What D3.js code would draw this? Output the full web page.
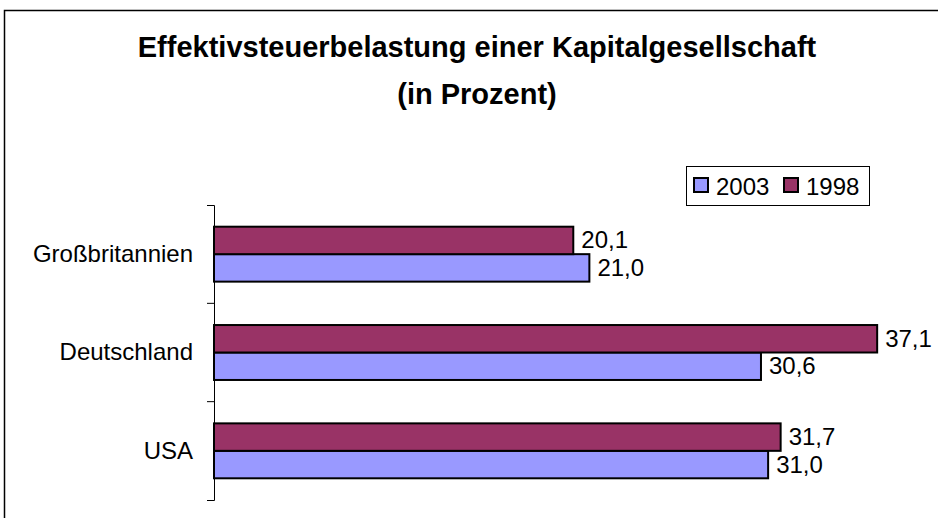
<!DOCTYPE html>
<html>
<head>
<meta charset="utf-8">
<script src="https://cdn.jsdelivr.net/npm/d3@7"></script>
<style>
  body { margin: 0; background: #fff; }
  svg { display: block; font-family: "Liberation Sans", Arial, sans-serif; }
</style>
</head>
<body>
<div id="viz"></div>
<script>
// chart data
var categories = ['Großbritannien', 'Deutschland', 'USA'];
var seriesNames = ['2003', '1998'];
var values2003 = [21.0, 30.6, 31.0];
var values1998 = [20.1, 37.1, 31.7];
var xDomain = [0, 40];
var titleLines = ['Effektivsteuerbelastung einer Kapitalgesellschaft', '(in Prozent)'];

var width = 938, height = 518;
var colors = { '2003': '#9999FF', '1998': '#993366' };
var fmt = function(v) { return v.toFixed(1).replace('.', ','); };

var svg = d3.select('#viz').append('svg')
  .attr('width', width)
  .attr('height', height);

// outer frame (bottom / right run off the picture)
svg.append('rect')
  .attr('x', 4.5).attr('y', 10.5)
  .attr('width', width).attr('height', height)
  .attr('fill', 'none').attr('stroke', '#000').attr('stroke-width', 1.5);

// title
svg.append('g').selectAll('text').data(titleLines)
  .enter().append('text')
    .attr('x', 477)
    .attr('y', function(d, i) { return 57 + i * 47; })
    .attr('text-anchor', 'middle')
    .style('font-weight', 'bold')
    .style('font-size', '29px')
    .text(function(d) { return d; });

var x = d3.scaleLinear().domain(xDomain).range([214, 929]);

var y = d3.scaleBand()
  .domain(categories)
  .range([205, 500]);

// 1998 above 2003 inside each band
var inner = d3.scaleBand()
  .domain(['1998', '2003'])
  .range([0, y.bandwidth()])
  .paddingInner(0)
  .paddingOuter(0.79);

var rows = [];
categories.forEach(function(c, i) {
  rows.push({ cat: c, s: '2003', v: values2003[i] });
  rows.push({ cat: c, s: '1998', v: values1998[i] });
});

svg.append('g').selectAll('rect').data(rows)
  .enter().append('rect')
    .attr('x', x(0))
    .attr('y', function(d) { return y(d.cat) + inner(d.s); })
    .attr('width', function(d) { return x(d.v) - x(0); })
    .attr('height', inner.bandwidth())
    .attr('fill', function(d) { return colors[d.s]; })
    .attr('stroke', '#000')
    .attr('stroke-width', 2);

svg.append('g').selectAll('text').data(rows)
  .enter().append('text')
    .attr('x', function(d) { return x(d.v) + 8; })
    .attr('y', function(d) { return y(d.cat) + inner(d.s) + inner.bandwidth() / 2 + 8; })
    .style('font-size', '24px')
    .text(function(d) { return fmt(d.v); });

// category axis
var yAxis = svg.append('g')
  .attr('transform', 'translate(' + x(0) + ',0)')
  .call(d3.axisLeft(y).tickSizeInner(0).tickSizeOuter(7).tickPadding(21));
yAxis.select('.domain').attr('stroke', '#000');
yAxis.selectAll('text')
  .style('font-size', '24px')
  .style('font-family', '"Liberation Sans", Arial, sans-serif')
  .attr('fill', '#000');

// tick marks between categories
yAxis.selectAll('line.sep').data(categories.slice(1))
  .enter().append('line')
    .attr('class', 'sep')
    .attr('x1', -7).attr('x2', 0)
    .attr('y1', function(d) { return y(d); })
    .attr('y2', function(d) { return y(d); })
    .attr('stroke', '#000');

// legend
var legend = svg.append('g').attr('transform', 'translate(686,166)');
legend.append('rect')
  .attr('x', 0.5).attr('y', 0.5)
  .attr('width', 183).attr('height', 39)
  .attr('fill', '#fff').attr('stroke', '#000');
var items = legend.selectAll('g.item').data(seriesNames)
  .enter().append('g')
    .attr('class', 'item')
    .attr('transform', function(d, i) { return 'translate(' + (i * 90) + ',0)'; });
items.append('rect')
  .attr('x', 8).attr('y', 12)
  .attr('width', 14).attr('height', 14)
  .attr('fill', function(d) { return colors[d]; })
  .attr('stroke', '#000').attr('stroke-width', 2);
items.append('text')
  .attr('x', 30).attr('y', 29)
  .style('font-size', '24px')
  .text(function(d) { return d; });
</script>
</body>
</html>
